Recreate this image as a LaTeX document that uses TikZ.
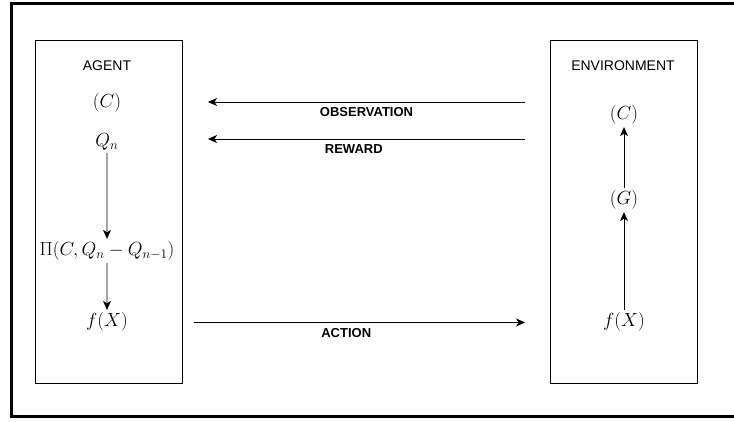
\documentclass[tikz,border=0pt]{standalone}
\usepackage{fontspec}
\setsansfont{Liberation Sans}
\usetikzlibrary{arrows.meta}

\tikzset{
  box/.style={draw, line width=0.8pt, minimum width=147pt, minimum height=343pt, inner sep=0pt},
  boxname/.style={font=\sffamily\fontsize{14}{16}\selectfont},
  flowname/.style={font=\sffamily\bfseries\fontsize{13}{15}\selectfont},
  term/.style={font=\fontsize{17.28}{20}\selectfont, scale=1.1, inner sep=2pt},
}

\begin{document}
\begin{tikzpicture}[>={Stealth[length=9pt,width=8pt,inset=2.5pt]}, x=1pt, y=-1pt, line width=0.8pt]
\useasboundingbox (0,0) rectangle (734,422);
\draw[line width=3pt] (734,3.5)--(11.5,3.5)--(11.5,416.5)--(734,416.5);

\node[box] (agent) at (108.5,211.5) {};
\node[box] (env) at (623.5,211.5) {};

% agent side
\node[boxname] (agentname) at (107,66) {AGENT};
\node[term] (agentC) at (107,103) {$(C)$};
\node[term] (agentQ) at (107,142) {$Q_n$};
\node[term] (agentPi) at (107,251) {$\Pi(C,Q_n-Q_{n-1})$};
\node[term] (agentF) at (107,322) {$f(X)$};
\draw[->] (agentQ)--(agentPi);
\draw[->] (agentPi)--(agentF);

% environment side
\node[boxname] (envname) at (623,66) {ENVIRONMENT};
\node[term] (envC) at (624,115) {$(C)$};
\node[term] (envG) at (624,200) {$(G)$};
\node[term] (envF) at (624,322) {$f(X)$};
\draw[->] (envF)--(envG);
\draw[->] (envG)--(envC);

% flows between them
\coordinate (obsR) at (525,102);
\coordinate (obsL) at (208,102);
\coordinate (rewR) at (525,139);
\coordinate (rewL) at (208,139);
\coordinate (actL) at (194,322.5);
\coordinate (actR) at (525,322.5);
\draw[->] (obsR)--node[flowname, below=2pt]{OBSERVATION}(obsL);
\draw[->] (rewR)--node[flowname, below=2pt, pos=0.54]{REWARD}(rewL);
\draw[->] (actL)--node[flowname, below=2pt, pos=0.46]{ACTION}(actR);

\end{tikzpicture}
\end{document}
